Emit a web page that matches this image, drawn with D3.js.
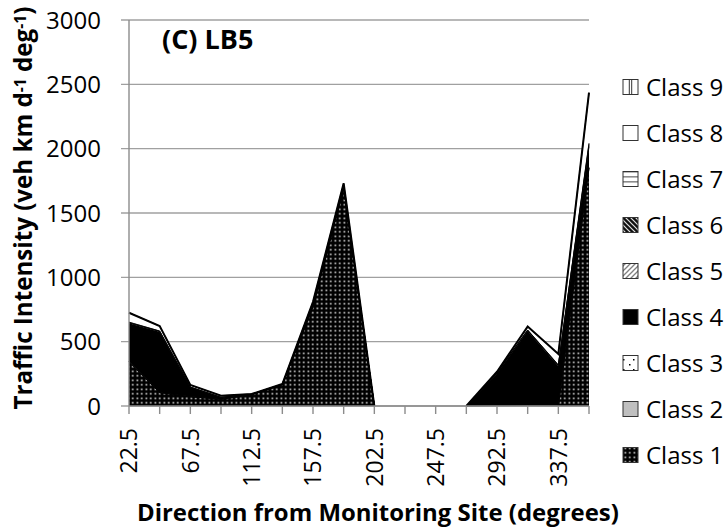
<!DOCTYPE html>
<html>
<head>
<meta charset="utf-8">
<script src="https://cdn.jsdelivr.net/npm/d3@7"></script>
<style>
  body { margin: 0; background: #fff; }
  svg { display: block; font-family: "Open Sans", Lato, sans-serif; }
</style>
</head>
<body>
<svg id="chart" width="728" height="529"></svg>
<script>
// directions (degrees), one point per 22.5 deg sector
var directions = ['22.5', '45', '67.5', '90', '112.5', '135', '157.5', '180',
                  '202.5', '225', '247.5', '270', '292.5', '315', '337.5', '360'];
var tick_labels = ['22.5', '67.5', '112.5', '157.5', '202.5', '247.5', '292.5', '337.5'];
var y_ticks = [0, 500, 1000, 1500, 2000, 2500, 3000];

// traffic intensity per vehicle class (veh km d-1 deg-1)
var class1 = [344, 104, 73, 52, 88, 165, 772, 1700, 0, 0, 0, 0, 0, 0, 0, 1850];
var class2 = [0, 0, 0, 0, 0, 0, 0, 0, 0, 0, 0, 0, 0, 0, 0, 0];
var class3 = [2, 1, 0, 0, 0, 0, 2, 0, 0, 0, 0, 0, 2, 3, 2, 5];
var class4 = [297, 473, 72, 15, 3, 4, 8, 0, 0, 0, 0, 0, 253, 582, 309, 160];
var class5 = [3, 2, 1, 0, 0, 0, 1, 1, 0, 0, 0, 0, 2, 3, 3, 10];
var class6 = [4, 2, 1, 0, 0, 0, 1, 1, 0, 0, 0, 0, 1, 2, 4, 12];
var class7 = [2, 1, 0, 0, 0, 0, 0, 0, 0, 0, 0, 0, 0, 1, 2, 6];
var class8 = [73, 39, 16, 13, 2, 2, 26, 29, 0, 0, 0, 0, 8, 26, 84, 392];
var class9 = [0, 0, 0, 0, 0, 0, 0, 0, 0, 0, 0, 0, 0, 0, 0, 0];

var class_names = ['Class 1', 'Class 2', 'Class 3', 'Class 4', 'Class 5',
                   'Class 6', 'Class 7', 'Class 8', 'Class 9'];
var class_values = [class1, class2, class3, class4, class5, class6, class7, class8, class9];

var svg = d3.select('#chart');

var plot_left = 129, plot_right = 589, plot_top = 20, plot_bottom = 406;

var xScale = d3.scalePoint().domain(directions).range([plot_left, plot_right]);
var yScale = d3.scaleLinear().domain([0, 3000]).range([plot_bottom, plot_top]);

// build rows for d3.stack
var rows = directions.map(function(dir, i) {
  var row = {dir: dir};
  class_names.forEach(function(name, k) { row[name] = class_values[k][i]; });
  return row;
});
var series = d3.stack().keys(class_names)(rows);

// ---- fill patterns (imitating the Excel pattern fills) ----
var defs = svg.append('defs');

function make_pattern(id, size, draw) {
  var p = defs.append('pattern')
    .attr('id', id)
    .attr('patternUnits', 'userSpaceOnUse')
    .attr('width', size)
    .attr('height', size);
  draw(p);
}

make_pattern('pat1', 4.5, function(p) {
  p.append('rect').attr('width', 4.5).attr('height', 4.5).attr('fill', '#000');
  p.append('rect').attr('x', 1.5).attr('y', 1.5).attr('width', 1.6).attr('height', 1.6).attr('fill', '#e0e0e0');
});
make_pattern('pat2', 4, function(p) {
  p.append('rect').attr('width', 4).attr('height', 4).attr('fill', '#bfbfbf');
});
make_pattern('pat3', 10, function(p) {
  p.append('rect').attr('width', 10).attr('height', 10).attr('fill', '#fff');
  p.append('rect').attr('x', 6).attr('y', 1).attr('width', 1.5).attr('height', 1.5).attr('fill', '#000');
  p.append('rect').attr('x', 0).attr('y', 6).attr('width', 1.5).attr('height', 1.5).attr('fill', '#000');
});
make_pattern('pat4', 4, function(p) {
  p.append('rect').attr('width', 4).attr('height', 4).attr('fill', '#000');
});
make_pattern('pat5', 5, function(p) {
  p.append('rect').attr('width', 5).attr('height', 5).attr('fill', '#fff');
  p.append('path').attr('d', 'M-1,6 L6,-1 M-1,1 L1,-1 M4,6 L6,4').attr('stroke', '#808080').attr('stroke-width', 1.3);
});
make_pattern('pat6', 5, function(p) {
  p.append('rect').attr('width', 5).attr('height', 5).attr('fill', '#111');
  p.append('path').attr('d', 'M-1,-1 L6,6 M4,-1 L6,1 M-1,4 L1,6').attr('stroke', '#e0e0e0').attr('stroke-width', 1.2);
});
make_pattern('pat7', 5, function(p) {
  p.append('rect').attr('width', 5).attr('height', 5).attr('fill', '#fff');
  p.append('rect').attr('y', 2).attr('width', 5).attr('height', 1.6).attr('fill', '#8c8c8c');
});
make_pattern('pat8', 4, function(p) {
  p.append('rect').attr('width', 4).attr('height', 4).attr('fill', '#fff');
});
make_pattern('pat9', 5, function(p) {
  p.append('rect').attr('width', 5).attr('height', 5).attr('fill', '#fff');
});

// ---- gridlines ----
svg.append('g')
  .selectAll('line.grid')
  .data(y_ticks)
  .enter()
  .append('line')
  .classed('grid', true)
  .attr('x1', plot_left - 8)
  .attr('x2', plot_right)
  .attr('y1', function(d) { return yScale(d); })
  .attr('y2', function(d) { return yScale(d); })
  .attr('stroke', '#a0a0a0')
  .attr('stroke-width', 1.4);

// ---- stacked areas ----
var area = d3.area()
  .x(function(d) { return xScale(d.data.dir); })
  .y0(function(d) { return yScale(d[0]); })
  .y1(function(d) { return yScale(d[1]); });

svg.append('g')
  .selectAll('path.area')
  .data(series)
  .enter()
  .append('path')
  .classed('area', true)
  .attr('d', area)
  .attr('fill', function(d, i) { return 'url(#pat' + (i + 1) + ')'; });

// top edge of each band, only where something is stacked up
function top_line(s) {
  return d3.line()
    .defined(function(d, i) {
      var prev = s[i - 1], next = s[i + 1];
      return d[1] > 0 || (prev && prev[1] > 0) || (next && next[1] > 0);
    })
    .x(function(d) { return xScale(d.data.dir); })
    .y(function(d) { return yScale(d[1]); })(s);
}

svg.append('g')
  .selectAll('path.edge')
  .data(series)
  .enter()
  .append('path')
  .classed('edge', true)
  .attr('d', top_line)
  .attr('fill', 'none')
  .attr('stroke', '#000')
  .attr('stroke-width', function(d) { return d.key == 'Class 8' ? 2 : 0.8; })
  .attr('stroke-linejoin', 'miter');

// ---- axes ----
var axis_color = '#8c8c8c';

svg.append('line')
  .attr('x1', plot_left).attr('x2', plot_left)
  .attr('y1', plot_top).attr('y2', plot_bottom)
  .attr('stroke', axis_color).attr('stroke-width', 1.4);

svg.append('line')
  .attr('x1', plot_left).attr('x2', plot_right)
  .attr('y1', plot_bottom).attr('y2', plot_bottom)
  .attr('stroke', axis_color).attr('stroke-width', 1.4);

svg.append('g')
  .selectAll('line.xtick')
  .data(directions)
  .enter()
  .append('line')
  .attr('x1', function(d) { return xScale(d); })
  .attr('x2', function(d) { return xScale(d); })
  .attr('y1', plot_bottom)
  .attr('y2', plot_bottom + 8)
  .attr('stroke', axis_color)
  .attr('stroke-width', 1.4);

svg.append('g')
  .selectAll('text.ylab')
  .data(y_ticks)
  .enter()
  .append('text')
  .attr('x', 101)
  .attr('y', function(d) { return yScale(d); })
  .attr('dy', '0.36em')
  .attr('text-anchor', 'end')
  .style('font-size', '24px')
  .style('fill', '#000')
  .text(function(d) { return d; });

svg.append('g')
  .selectAll('text.xlab')
  .data(tick_labels)
  .enter()
  .append('text')
  .attr('transform', function(d) { return 'translate(' + xScale(d) + ',' + (plot_bottom + 22) + ') rotate(-90)'; })
  .attr('dy', '0.36em')
  .attr('text-anchor', 'end')
  .style('font-size', '23px')
  .style('fill', '#000')
  .text(function(d) { return d; });

// ---- titles ----
svg.append('text')
  .attr('x', 162)
  .attr('y', 49)
  .style('font-size', '27px')
  .style('font-weight', 'bold')
  .text('(C) LB5');

// x title: "...(deg" should reach about x=560 when starting at x=137
var xtitle = svg.append('text')
  .attr('x', 137)
  .attr('y', 521)
  .style('font-size', '20px')
  .style('font-weight', 'bold');
var xt_a = xtitle.append('tspan').text('Direction from Monitoring Site (deg');
xtitle.append('tspan').text('rees)');
var xt_size = 20 * 423 / xt_a.node().getComputedTextLength();
xtitle.style('font-size', xt_size + 'px');

var ytitle = svg.append('text')
  .attr('transform', 'translate(32,208) rotate(-90)')
  .attr('text-anchor', 'middle')
  .style('font-size', '20px')
  .style('font-weight', 'bold');
ytitle.append('tspan').text('Traffic Intensity (veh km d');
ytitle.append('tspan').attr('class', 'sup').attr('dy', '-0.4em').style('font-size', '0.65em').text('-1');
ytitle.append('tspan').attr('dy', '0.26em').text(' deg');
ytitle.append('tspan').attr('class', 'sup').attr('dy', '-0.4em').style('font-size', '0.65em').text('-1');
ytitle.append('tspan').attr('dy', '0.26em').text(')');
// fit the whole title to the height it takes in the figure (about 403px)
var yt_size = 20 * 403 / ytitle.node().getComputedTextLength();
ytitle.style('font-size', yt_size + 'px');

// ---- legend (Class 9 on top) ----
var legend_items = class_names.slice().reverse();
var legend = svg.append('g')
  .selectAll('g.legend')
  .data(legend_items)
  .enter()
  .append('g')
  .attr('transform', function(d, i) { return 'translate(623,' + (87 + i * 46) + ')'; });

legend.append('rect')
  .attr('x', 0)
  .attr('y', -7.5)
  .attr('width', 15)
  .attr('height', 15)
  .attr('fill', function(d) { return 'url(#pat' + d.split(' ')[1] + ')'; })
  .attr('stroke', '#333')
  .attr('stroke-width', 1);

// class 9 icon: vertical divider lines
legend.filter(function(d) { return d == 'Class 9'; })
  .append('path')
  .attr('d', 'M6.3,-7.5 V7.5 M8.7,-7.5 V7.5')
  .attr('stroke', '#333')
  .attr('stroke-width', 1);

legend.append('text')
  .attr('x', 23)
  .attr('dy', '0.36em')
  .style('font-size', '24px')
  .text(function(d) { return d; });
</script>
</body>
</html>
